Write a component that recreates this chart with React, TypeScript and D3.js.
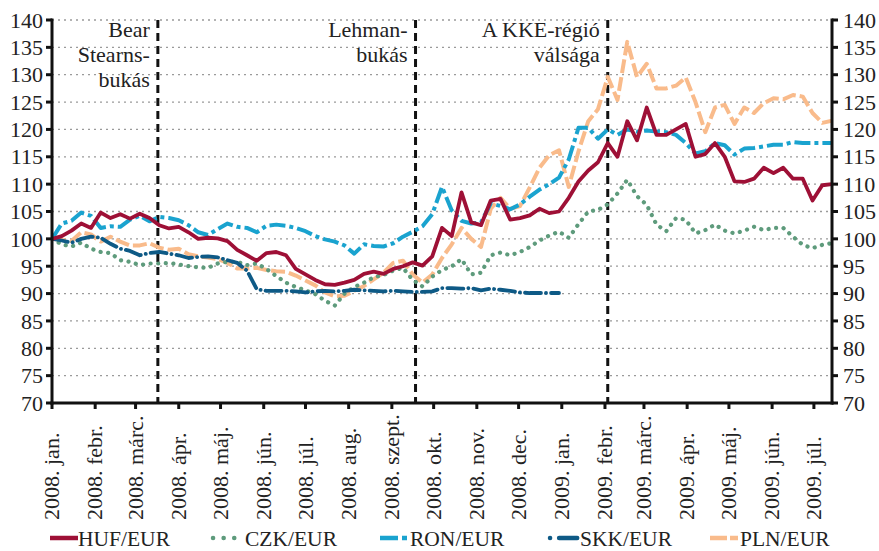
import React from "react";
import * as d3 from "d3";

const START = new Date(2008, 0, 1);
const STEP_DAYS = 7;

const HUF = [100,100.5,101.5,102.8,102,104.8,103.8,104.5,103.7,104.6,
 103.8,102.5,101.9,102.2,101.2,100,100.2,100.1,99.6,98,
 97,96,97.4,97.6,97,94.5,93.5,92.5,91.7,91.6,
 92,92.5,93.6,94,93.6,94.5,95,95.7,95.1,96.8,
 102,100.5,108.5,103,102.5,107,107.3,103.5,103.8,104.3,
 105.5,104.7,105,107.5,110.5,112.5,114,117.5,115,121.5,
 118,124,119,119,120,121,115,115.5,117.5,115,
 110.5,110.4,111,113,112,113,111,111,107,109.8,110];

const CZK = [100,99,98.6,99.3,98.2,97.6,97.4,96.1,95.8,95.2,
 95.5,95.5,95.6,95.3,95,94.8,94.7,95.5,95.8,95.8,
 95.2,95.5,94.5,93.2,92,91.2,90.6,89.9,88.7,87.8,
 90,91.2,92,93,93.4,94.2,94.7,92.5,91.3,93.1,
 94.3,95,96.3,93.5,93.8,97,97.5,97,97.6,98.5,
 99.7,100.6,101.3,100.2,102.7,105,105.3,106.3,108.3,110.8,
 107.8,106.2,102.6,101.4,103.8,103.5,101,101.6,102.6,101.5,
 101,101.5,102.2,101.6,102,102,100.4,98.9,98.3,98.9,99.2];

const RON = [100,102.8,103.3,104.8,104.2,102,102.3,102.2,103.5,104.2,
 103.2,104,103.8,103.4,102.5,101.2,100.7,101.8,102.8,102.2,
 102,101.2,102.4,102.6,102.4,102,101.4,100.5,99.9,99.5,
 98.8,97.3,99,98.7,98.6,99.2,100.4,101.3,102.3,104.5,
 109.5,105.2,103.3,102.8,103,106.5,106,105.4,106.3,107.7,
 109,110,111.2,114.5,120.3,120.3,118.3,120,119,120,
 119.6,119.8,119.6,119.5,119,117.5,115.6,116,117.5,117.1,
 115.4,116.5,116.6,116.9,117.2,117.2,117.7,117.5,117.5,117.5,117.5];

const SKK = [100,99.7,99.3,100,100.4,100.2,99.1,98.2,97.8,97,
 97.4,97.6,97.3,97,96.5,96.7,96.8,96.6,96.1,95.6,
 94.2,90.8,90.5,90.5,90.5,90.4,90.2,90.4,90.5,90.4,
 90.5,90.7,90.6,90.5,90.4,90.5,90.4,90.3,90.3,90.4,
 91,91,90.9,91,90.6,90.9,90.7,90.5,90.2,90.1,
 90.1,90.1,90.1];

const PLN = [100,99.8,99.6,101.2,100.8,99.5,100.4,99.5,98.8,98.8,
 99.2,98.4,98,98.2,97.2,96.8,96.6,96.3,95.6,94.6,
 94.6,94.7,94.3,94.1,94,93.3,92.4,91.5,90.2,89.5,
 89.6,90.5,91.4,92.6,93.8,95.6,96,93.5,92,93.5,
 96.5,99,102,100,98.5,105.5,107.5,105.5,106,109.4,
 113,115.3,116.2,109.5,116,121.5,123.7,129.6,125.4,136,
 129.6,132,127.5,127.5,128,129.5,125,119.5,124,124.5,
 121,124,123,124.8,125.7,125.5,126.3,126,123,121.2,121.6];

const MONTH_LABELS = ["2008. jan.","2008. febr.","2008. márc.","2008. ápr.","2008. máj.","2008. jún.","2008. júl.","2008. aug.","2008. szept.","2008. okt.","2008. nov.","2008. dec.","2009. jan.","2009. febr.","2009. márc.","2009. ápr.","2009. máj.","2009. jún.","2009. júl."];
const Y_TICKS = [70,75,80,85,90,95,100,105,110,115,120,125,130,135,140];

const EVENT_DATES = [new Date(2008, 2, 17), new Date(2008, 8, 18), new Date(2009, 1, 3)];
const EVENT_LABELS = [["Bear", "Stearns-", "bukás"], ["Lehman-", "bukás"], ["A KKE-régió", "válsága"]];

const SERIES = [
  { name: "PLN/EUR", values: PLN, color: "#f9bb8b", dash: "14,4", width: 4, cap: "butt", legendDash: "17,3,8,0" },
  { name: "CZK/EUR", values: CZK, color: "#5e9b7c", dash: "0.1,7.5", width: 4.2, cap: "round", legendDash: "0.1,10.5" },
  { name: "SKK/EUR", values: SKK, color: "#0e5a86", dash: "16,5,0.1,5", width: 3.8, cap: "round", legendDash: "0.1,9,18,0" },
  { name: "RON/EUR", values: RON, color: "#1aa3cf", dash: "16,4,4,4", width: 4, cap: "butt", legendDash: "18,4,5,20" },
  { name: "HUF/EUR", values: HUF, color: "#9e1036", dash: "none", width: 3.8, cap: "butt", legendDash: "none" },
];
const LEGEND_ORDER = ["HUF/EUR", "CZK/EUR", "RON/EUR", "SKK/EUR", "PLN/EUR"];

const FONT = '"Liberation Serif", "DejaVu Serif", serif';

export default function App() {
  const W = 879, H = 551;
  const L = 52, R = 832, T = 20, B = 403;
  const x = d3.scaleTime().domain([START, new Date(2009, 6, 14)]).range([L, R]);
  const y = d3.scaleLinear().domain([70, 140]).range([B, T]);
  const months = d3.timeMonth.range(new Date(2008, 0, 1), new Date(2009, 6, 2));
  const line = d3.line<number>()
    .x((_, i) => x(d3.timeDay.offset(START, i * STEP_DAYS)))
    .y((v) => y(v));

  const legendX = [50, 213, 380, 550, 710];
  const legendTextX = [78, 245, 410, 580, 740];
  const legendY = 538;
  const ts = { fontFamily: FONT, fontSize: "22px" } as React.CSSProperties;

  return (
    <div style={{ position: "absolute", left: 0, top: 0 }}>
      <svg width={W} height={H} style={{ display: "block", background: "#fff", fontFamily: FONT }}>
        <defs>
          <clipPath id="plotclip">
            <rect x={L} y={T - 10} width={R - L} height={B - T + 10} />
          </clipPath>
        </defs>
        {Y_TICKS.filter((t) => t > 70).map((t) => (
          <line key={"g" + t} x1={L} x2={R} y1={y(t)} y2={y(t)} stroke="#9a9a9a" strokeWidth={1.3} strokeDasharray="2,4" />
        ))}
        {EVENT_DATES.map((d, i) => (
          <line key={"ev" + i} x1={x(d)} x2={x(d)} y1={T} y2={B} stroke="#111" strokeWidth={3} strokeDasharray="8,5" />
        ))}
        {EVENT_LABELS.map((lines, i) =>
          lines.map((s, j) => (
            <text key={"el" + i + "-" + j} x={x(EVENT_DATES[i]) - 8} y={37 + j * 25} textAnchor="end" style={ts} fill="#222">{s}</text>
          ))
        )}
        <g clipPath="url(#plotclip)">
          {SERIES.map((s) => (
            <path key={s.name} d={line(s.values) || ""} fill="none" stroke={s.color} strokeWidth={s.width}
              strokeDasharray={s.dash} strokeLinecap={s.cap as any} strokeLinejoin="round" />
          ))}
        </g>
        <line x1={L} x2={L} y1={T - 1.5} y2={B + 1.5} stroke="#111" strokeWidth={3} />
        <line x1={R} x2={R} y1={T - 1.5} y2={B + 1.5} stroke="#111" strokeWidth={3} />
        <line x1={L - 1.5} x2={R + 1.5} y1={B} y2={B} stroke="#111" strokeWidth={3} />
        {Y_TICKS.map((t) => (
          <g key={"yt" + t}>
            <line x1={L - 6} x2={L} y1={y(t)} y2={y(t)} stroke="#111" strokeWidth={3} />
            <line x1={R} x2={R + 6} y1={y(t)} y2={y(t)} stroke="#111" strokeWidth={3} />
            <text x={L - 9} y={y(t)} dy="0.35em" textAnchor="end" style={ts} fill="#222">{t}</text>
            <text x={R + 11} y={y(t)} dy="0.35em" textAnchor="start" style={ts} fill="#222">{t}</text>
          </g>
        ))}
        {months.map((m, i) => (
          <g key={"xt" + i}>
            <line x1={x(m)} x2={x(m)} y1={B} y2={B + 6} stroke="#111" strokeWidth={3} />
            <text transform={`translate(${x(m)},520) rotate(-90)`} dy="0.33em" textAnchor="start" style={ts} fill="#222">{MONTH_LABELS[i]}</text>
          </g>
        ))}
        {LEGEND_ORDER.map((name, i) => {
          const s = SERIES.find((q) => q.name === name)!;
          return (
            <g key={"lg" + name}>
              <line x1={legendX[i]} x2={legendX[i] + 28} y1={legendY} y2={legendY} stroke={s.color} strokeWidth={4.5}
                strokeDasharray={s.legendDash} strokeLinecap={s.cap as any} />
              <text x={legendTextX[i]} y={legendY} dy="0.35em" style={{ ...ts, fontSize: "21.5px" }} fill="#222">{name}</text>
            </g>
          );
        })}
      </svg>
    </div>
  );
}
